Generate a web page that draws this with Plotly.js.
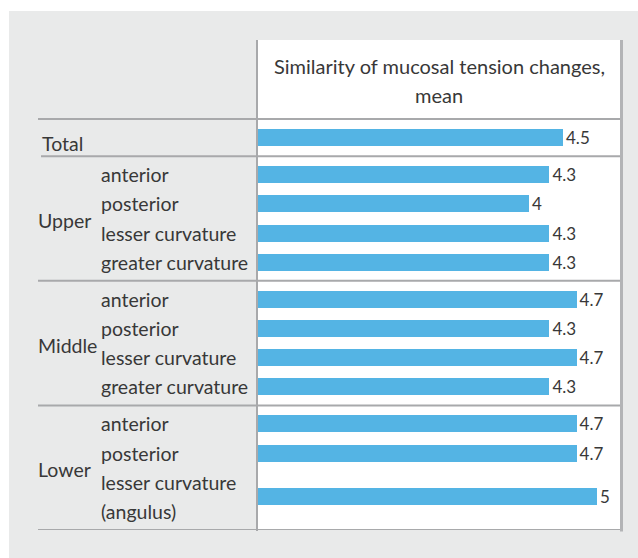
<!DOCTYPE html>
<html>
<head>
<meta charset="utf-8">
<script src="https://cdn.plot.ly/plotly-3.0.1.min.js"></script>
<style>
  html, body { margin: 0; padding: 0; background: #ffffff; }
  #chart { width: 638px; height: 558px; }
</style>
</head>
<body>
<div id="chart"></div>
<script>
// ---- data ----
const regions = ['Total', 'Upper', 'Upper', 'Upper', 'Upper',
                 'Middle', 'Middle', 'Middle', 'Middle',
                 'Lower', 'Lower', 'Lower'];
const sites = ['', 'anterior', 'posterior', 'lesser curvature', 'greater curvature',
               'anterior', 'posterior', 'lesser curvature', 'greater curvature',
               'anterior', 'posterior', 'lesser curvature<br>(angulus)'];
const means = [4.5, 4.3, 4, 4.3, 4.3, 4.7, 4.3, 4.7, 4.3, 4.7, 4.7, 5];
const headerLines = ['Similarity of mucosal tension changes,', 'mean'];

// ---- layout constants (pixels) ----
const W = 638, H = 558;
const M = { l: 257, r: 17, t: 40, b: 28 };
const PW = W - M.l - M.r, PH = H - M.t - M.b;
const HEADER = 80;
const LINE = 29.5;
const PAD = 4;
const BAR_PX = 17;
const PX_PER_UNIT = 68;
const FONT = 'Lato, "Open Sans", sans-serif';
const TXT = '#383838';
const RULE = '#a8a9ab';
const LABEL_SIZE = 19.5;

// ---- build table geometry from the structure ----
const groupOrder = [];
regions.forEach(r => { if (!groupOrder.includes(r)) groupOrder.push(r); });
let cursor = HEADER;
const rowCenter = new Array(means.length);
const lineLabels = [];
const groupLabels = [];
const separators = [HEADER];
groupOrder.forEach(g => {
  const top = cursor;
  let y = top + PAD;
  const lineCenters = [];
  regions.forEach((r, i) => {
    if (r !== g) return;
    const parts = sites[i] ? sites[i].split('<br>') : [g];
    const start = y;
    parts.forEach((p, k) => {
      const c = start + LINE * (k + 0.5);
      lineCenters.push(c);
      if (sites[i]) lineLabels.push({ text: p, y: c });
    });
    y = start + LINE * parts.length;
    rowCenter[i] = (start + y) / 2;
  });
  cursor = y + PAD;
  const gy = lineCenters.reduce((a, b) => a + b, 0) / lineCenters.length;
  groupLabels.push({ text: g, y: gy, single: g === 'Total' });
  separators.push(cursor);
});
const YMAX = cursor;
const yScale = YMAX / PH;

const px2paperX = px => (px - M.l) / PW;
const px2paperY = py => (M.t + PH - py) / PH;

// ---- trace ----
const trace = {
  type: 'bar',
  orientation: 'h',
  x: means,
  y: rowCenter,
  width: BAR_PX * yScale,
  marker: { color: '#54b4e4', line: { width: 0 } },
  text: means.map(v => String(v)),
  textposition: 'outside',
  constraintext: 'none',
  textfont: { family: FONT, size: 17, color: TXT },
  cliponaxis: false,
  hoverinfo: 'none'
};

// ---- shapes ----
const shapes = [
  { type: 'rect', xref: 'paper', yref: 'paper', layer: 'below',
    x0: px2paperX(9), x1: px2paperX(W + 2), y0: px2paperY(H + 2), y1: px2paperY(11),
    fillcolor: '#e9eaea', line: { width: 0 } },
  { type: 'rect', xref: 'paper', yref: 'paper', layer: 'below',
    x0: 0, x1: 1, y0: 0, y1: 1, fillcolor: '#ffffff', line: { width: 0 } }
];
separators.forEach((s, k) => {
  shapes.push({ type: 'line', xref: 'paper', yref: 'y', layer: 'above',
    x0: px2paperX(k === 1 ? 41 : 38), x1: 1, y0: s, y1: s,
    line: { color: RULE, width: 2 } });
});
shapes.push({ type: 'line', xref: 'paper', yref: 'paper', layer: 'above',
  x0: 0, x1: 0, y0: px2paperY(M.t + PH + 1), y1: 1, line: { color: RULE, width: 2 } });
shapes.push({ type: 'line', xref: 'paper', yref: 'paper', layer: 'above',
  x0: px2paperX(W - M.r + 0.5), x1: px2paperX(W - M.r + 0.5), y0: px2paperY(M.t + PH + 1.5), y1: 1,
  line: { color: '#b3b4b6', width: 3 } });

// ---- annotations ----
const annotations = [];
headerLines.forEach((t, k) => {
  annotations.push({ text: t, xref: 'paper', yref: 'y', x: 0.5, y: HEADER * (k === 0 ? 0.33 : 0.70),
    xanchor: 'center', yanchor: 'middle', showarrow: false,
    font: { family: FONT, size: 20, color: TXT } });
});
lineLabels.forEach(l => {
  annotations.push({ text: l.text, xref: 'paper', yref: 'y', x: px2paperX(99), y: l.y,
    xanchor: 'left', yanchor: 'middle', showarrow: false,
    font: { family: FONT, size: LABEL_SIZE, color: TXT } });
});
groupLabels.forEach(g => {
  annotations.push({ text: g.text, xref: 'paper', yref: 'y', x: px2paperX(g.single ? 40 : 36), y: g.y + (g.single ? 6 : 2),
    xanchor: 'left', yanchor: 'middle', showarrow: false,
    font: { family: FONT, size: LABEL_SIZE, color: TXT } });
});

const layout = {
  width: W, height: H,
  margin: M,
  paper_bgcolor: '#ffffff',
  plot_bgcolor: 'rgba(0,0,0,0)',
  showlegend: false,
  bargap: 0,
  xaxis: { range: [0, PW / PX_PER_UNIT], visible: false, fixedrange: true },
  yaxis: { range: [YMAX, 0], visible: false, fixedrange: true },
  shapes: shapes,
  annotations: annotations
};

Plotly.newPlot('chart', [trace], layout, { displayModeBar: false, staticPlot: true });
</script>
</body>
</html>
